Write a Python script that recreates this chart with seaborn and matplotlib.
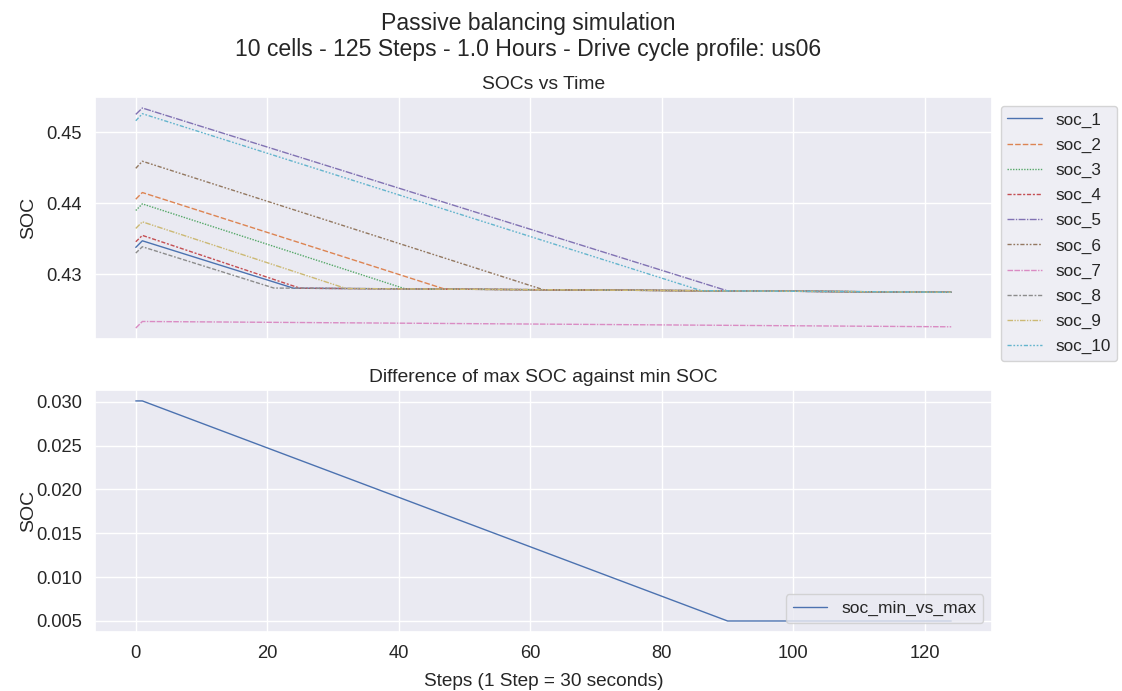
import matplotlib
matplotlib.use("Agg")
import matplotlib.pyplot as plt
import pandas as pd
import seaborn as sns

# Cell state of charge at key steps of the passive balancing run
cells = ["soc_1", "soc_2", "soc_3", "soc_4", "soc_5",
         "soc_6", "soc_7", "soc_8", "soc_9", "soc_10"]
start_soc = [0.43376, 0.44055, 0.43896, 0.43455, 0.45250,
             0.44490, 0.42239, 0.43296, 0.43643, 0.45160]
peak_soc = [0.43469, 0.44149, 0.43989, 0.43545, 0.45340,
            0.44590, 0.42332, 0.43385, 0.43736, 0.45260]
settle_step = [24, 47, 41, 25, 90, 62, None, 21, 32, 86]
settle_soc = [0.42801, 0.42788, 0.42791, 0.42800, 0.42763,
              0.42779, None, 0.42803, 0.42796, 0.42766]
final_soc = [0.42744, 0.42744, 0.42744, 0.42744, 0.42744,
             0.42744, 0.42257, 0.42744, 0.42744, 0.42744]
first_step, peak_step, last_step = 0, 1, 124

# Spread between the highest and lowest cell
diff_steps = [0, 1, 90, 124]
diff_soc = [0.0301, 0.0301, 0.0050, 0.0050]

rows = []
for i, name in enumerate(cells):
    rows.append((name, first_step, start_soc[i]))
    rows.append((name, peak_step, peak_soc[i]))
    if settle_step[i] is not None:
        rows.append((name, settle_step[i], settle_soc[i]))
    rows.append((name, last_step, final_soc[i]))
soc_df = pd.DataFrame(rows, columns=["cell", "step", "soc"])
diff_df = pd.DataFrame({"step": diff_steps, "soc_min_vs_max": diff_soc})

sns.set_theme(style="darkgrid")
plt.rcParams["font.family"] = ["Liberation Sans", "DejaVu Sans"]

fig, (ax1, ax2) = plt.subplots(2, 1, figsize=(11.22, 6.91), dpi=100, sharex=True)
fig.subplots_adjust(left=95 / 1122, right=992 / 1122,
                    top=1 - 97 / 691, bottom=1 - 632 / 691, hspace=0.21)

sns.lineplot(data=soc_df, x="step", y="soc", hue="cell", style="cell",
             ax=ax1, linewidth=1.0)
old = ax1.get_legend()
handles = old.legend_handles
labels = [t.get_text() for t in old.get_texts()]
old.remove()
ax1.legend(handles, labels, loc="upper left", bbox_to_anchor=(1, 1),
           fontsize=12.3, labelspacing=0.59)
ax1.set_title("SOCs vs Time", fontsize=13.9)
ax1.set_xlabel("")
ax1.set_ylabel("SOC", fontsize=14)

sns.lineplot(data=diff_df, x="step", y="soc_min_vs_max", ax=ax2,
             label="soc_min_vs_max", linewidth=1.0)
ax2.legend(loc="lower right", fontsize=12.5)
ax2.set_title("Difference of max SOC against min SOC", fontsize=13.9)
ax2.set_xlabel("Steps (1 Step = 30 seconds)", fontsize=13.7, labelpad=8)
ax2.set_ylabel("SOC", fontsize=14)

for ax in (ax1, ax2):
    ax.tick_params(labelsize=13.2)
    ax.yaxis.set_label_coords(-0.0641, 0.5)

fig.suptitle("Passive balancing simulation\n"
             "10 cells - 125 Steps - 1.0 Hours - Drive cycle profile: us06",
             x=0.4706, y=0.983, fontsize=16.6)

fig.savefig("out.png", dpi=100)
